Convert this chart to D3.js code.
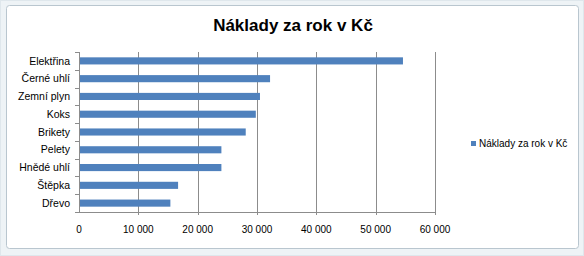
<!DOCTYPE html>
<html>
<head>
<meta charset="utf-8">
<script src="https://cdn.jsdelivr.net/npm/d3@7"></script>
<style>
  html, body { margin: 0; padding: 0; background: #fff; }
  svg { display: block; font-family: "Liberation Sans", Arial, sans-serif; }
</style>
</head>
<body>
<svg id="chart" width="584" height="256"></svg>
<script>
// data
const categories = ['Elektřina', 'Černé uhlí', 'Zemní plyn', 'Koks', 'Brikety', 'Pelety', 'Hnědé uhlí', 'Štěpka', 'Dřevo'];
const costs      = [54600, 32200, 30500, 29800, 28100, 24000, 24000, 16700, 15400];
const xTicks     = [0, 10000, 20000, 30000, 40000, 50000, 60000];
const seriesName = 'Náklady za rok v Kč';
const title      = 'Náklady za rok v Kč';

const W = 584, H = 256;
const BAR = '#4f81bd', GRID = '#8c8c8c';

const svg = d3.select('#chart');

// outer chart frame
svg.append('rect').attr('x', 0.5).attr('y', 0.5).attr('width', W - 1).attr('height', H - 1)
  .attr('fill', '#eef3f6').attr('stroke', '#dfe7ec');
svg.append('rect').attr('x', 6.5).attr('y', 5.5).attr('width', 572).attr('height', 243)
  .attr('rx', 3).attr('fill', '#fff').attr('stroke', '#b9c6cf');

const x = d3.scaleLinear().domain([0, 60000]).range([79, 435]);
const y = d3.scaleBand().domain(categories).range([52, 212]).paddingInner(0.6).paddingOuter(0.3);

const cz = d3.formatLocale({ decimal: ',', thousands: '\u00a0', grouping: [3], currency: ['', ' Kč'] });
const fmt = cz.format(',d');

// vertical gridlines
svg.append('g').selectAll('line').data(xTicks.slice(1)).join('line')
  .attr('x1', d => Math.round(x(d)) + 0.5).attr('x2', d => Math.round(x(d)) + 0.5)
  .attr('y1', 52).attr('y2', 215)
  .attr('stroke', GRID).attr('stroke-width', 1);

// bars
svg.append('g').selectAll('rect').data(categories).join('rect')
  .attr('x', x(0)).attr('y', d => y(d))
  .attr('width', (d, i) => x(costs[i]) - x(0))
  .attr('height', y.bandwidth())
  .attr('fill', BAR);

// category axis (left) with ticks between categories
const yAxis = svg.append('g');
yAxis.append('line').attr('x1', 79.5).attr('x2', 79.5).attr('y1', 52).attr('y2', 212)
  .attr('stroke', GRID);
const bounds = d3.range(categories.length + 1).map(i => 52 + i * y.step());
yAxis.selectAll('.yt').data(bounds).join('line').attr('class', 'yt')
  .attr('x1', 75).attr('x2', 79.5)
  .attr('y1', d => Math.round(d) + 0.5).attr('y2', d => Math.round(d) + 0.5)
  .attr('stroke', GRID);
yAxis.selectAll('text').data(categories).join('text')
  .attr('x', 70).attr('y', d => y(d) + y.bandwidth() / 2).attr('dy', '0.35em')
  .attr('text-anchor', 'end').attr('font-size', 10.5).attr('fill', '#000')
  .text(d => d);

// value axis (bottom)
const xAxis = svg.append('g');
xAxis.append('line').attr('x1', 79).attr('x2', 436).attr('y1', 212.5).attr('y2', 212.5)
  .attr('stroke', GRID);
xAxis.selectAll('text').data(xTicks).join('text')
  .attr('x', d => x(d)).attr('y', 233)
  .attr('text-anchor', 'middle').attr('font-size', 10).attr('fill', '#000')
  .text(d => fmt(d));

// title
svg.append('text').attr('x', 293).attr('y', 31).attr('text-anchor', 'middle')
  .attr('font-size', 17).attr('font-weight', 'bold').attr('fill', '#000')
  .text(title);

// legend
const leg = svg.append('g').attr('transform', 'translate(471,141)');
leg.append('rect').attr('width', 5).attr('height', 5).attr('fill', BAR);
leg.append('text').attr('x', 8).attr('y', 2.5).attr('dy', '0.35em')
  .attr('font-size', 10).attr('fill', '#000').text(seriesName);
</script>
</body>
</html>
